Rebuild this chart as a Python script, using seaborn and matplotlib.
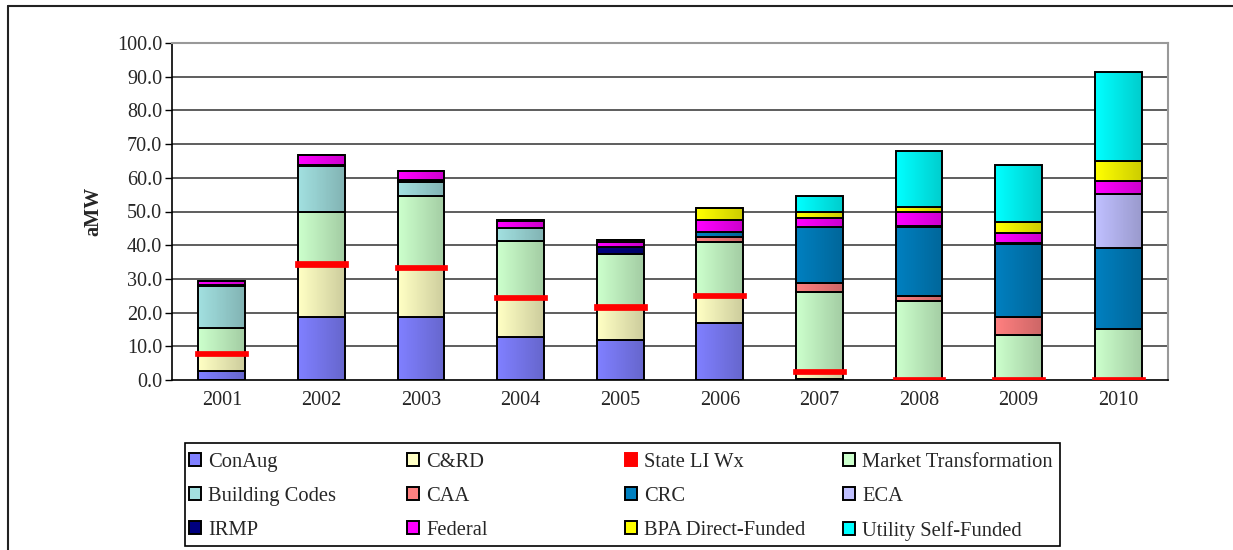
import numpy as np
import pandas as pd
import matplotlib
matplotlib.use("Agg")
import matplotlib.pyplot as plt
from matplotlib.patches import Patch, Rectangle
from matplotlib.lines import Line2D
import seaborn as sns

# values (aMW)
years = ['2001', '2002', '2003', '2004', '2005', '2006', '2007', '2008', '2009', '2010']
conaug = [2.7, 18.8, 18.6, 12.7, 11.9, 17.0, 0.3, 0.0, 0.0, 0.0]
crd = [5.0, 15.4, 14.6, 11.6, 9.6, 7.8, 2.0, 0.0, 0.0, 0.0]
state_li = [0.4, 0.4, 0.4, 0.4, 0.4, 0.4, 0.5, 0.2, 0.2, 0.2]
market_tr = [7.2, 15.2, 21.0, 16.5, 15.6, 15.8, 23.2, 23.1, 13.2, 14.9]
bldg_codes = [12.7, 13.7, 4.2, 3.8, 0.0, 0.0, 0.0, 0.0, 0.0, 0.0]
caa = [0.0, 0.0, 0.0, 0.0, 0.0, 1.3, 2.8, 1.5, 5.4, 0.0]
crc = [0.0, 0.0, 0.0, 0.0, 0.0, 1.5, 16.5, 20.7, 21.5, 24.0]
eca = [0.0, 0.0, 0.0, 0.0, 0.0, 0.0, 0.0, 0.0, 0.0, 16.0]
irmp = [0.3, 0.3, 0.4, 0.0, 2.0, 0.0, 0.0, 0.3, 0.3, 0.0]
federal = [1.2, 3.1, 2.7, 2.1, 1.5, 3.8, 2.8, 4.2, 3.0, 4.0]
bpa_direct = [0.0, 0.0, 0.0, 0.5, 0.5, 3.3, 1.7, 1.3, 3.2, 5.8]
utility_self = [0.0, 0.0, 0.0, 0.0, 0.0, 0.0, 4.8, 16.8, 17.1, 26.5]

series = [
    ('ConAug', conaug, '#8080FF'),
    ('C&RD', crd, '#FFFFC4'),
    ('State LI Wx', state_li, '#FF0000'),
    ('Market Transformation', market_tr, '#CCFFCC'),
    ('Building Codes', bldg_codes, '#A2E0E0'),
    ('CAA', caa, '#FF8080'),
    ('CRC', crc, '#0080C0'),
    ('ECA', eca, '#C0C0FF'),
    ('IRMP', irmp, '#000080'),
    ('Federal', federal, '#FF00FF'),
    ('BPA Direct-Funded', bpa_direct, '#FFFF00'),
    ('Utility Self-Funded', utility_self, '#00FFFF'),
]

sns.set_style("white")
plt.rcParams['font.family'] = ['Liberation Serif', 'DejaVu Serif']

fig = plt.figure(figsize=(12.33, 5.5), dpi=100)
ax = fig.add_axes([172/1233, 1-380/550, (1168-172)/1233, (380-43)/550])

for v in np.arange(10, 101, 10):
    ax.axhline(v, color='#505050' if v < 100 else '#999999', lw=1.3, zorder=0)

bottom = np.zeros(len(years))
for name, vals, col in series:
    vals = np.array(vals)
    df = pd.DataFrame({'year': years, 'val': vals})
    n_before = len(ax.patches)
    if name == 'State LI Wx':
        sns.barplot(data=df, x='year', y='val', color=col, bottom=bottom, width=0.49,
                    edgecolor='#FF0000', linewidth=3.4, errorbar=None, ax=ax,
                    saturation=1, zorder=3)
    else:
        sns.barplot(data=df, x='year', y='val', color=col, bottom=bottom, width=0.47,
                    edgecolor='black', linewidth=1.4, errorbar=None, ax=ax,
                    saturation=1, zorder=2)
        # cylinder-like shading: darken towards the right side of each bar
        shade = np.zeros((1, 64, 4))
        shade[0, :, 3] = np.linspace(0.0, 0.2, 64)
        for p in ax.patches[n_before:]:
            if p.get_height() <= 0:
                continue
            x0, y0 = p.get_x(), p.get_y()
            im = ax.imshow(shade, extent=(x0, x0 + p.get_width(), y0, y0 + p.get_height()),
                           aspect='auto', zorder=2.1, interpolation='bilinear')
            im.set_clip_path(p)
    bottom = bottom + vals

ax.set_xlim(-0.5, 9.5)
ax.set_ylim(0, 100)
ax.set_yticks(np.arange(0, 101, 10))
ax.set_yticklabels([f'{v:.1f}' for v in np.arange(0, 101, 10)])
ax.set_xlabel('')
ax.set_ylabel('aMW', fontsize=14.5, fontweight='bold', labelpad=10)

ax.set_xticks(np.arange(-0.5, 10, 1), minor=True)
ax.tick_params(axis='x', which='major', length=0, pad=8, labelsize=14.5)
ax.tick_params(axis='x', which='minor', length=5, width=1, color='black', direction='out')
ax.tick_params(axis='y', which='major', length=5, width=1, color='black', direction='out',
               pad=2, labelsize=14.5, left=True)

for s in ['left', 'bottom']:
    ax.spines[s].set_color('black')
    ax.spines[s].set_linewidth(1.2)
for s in ['top', 'right']:
    ax.spines[s].set_color('#999999')
    ax.spines[s].set_linewidth(1.5)

# legend: 4 columns of 3 rows, inside a box
cols = [[0, 4, 8], [1, 5, 9], [2, 6, 10], [3, 7, 11]]
col_x = [189, 407, 625, 843]
for cx, idxs in zip(col_x, cols):
    handles = []
    for i in idxs:
        name, _, col = series[i]
        ec = '#FF0000' if name == 'State LI Wx' else 'black'
        handles.append(Patch(facecolor=col, edgecolor=ec, linewidth=1.4, label=name))
    fig.legend(handles=handles, loc='upper left', bbox_to_anchor=(cx/1233, 1-453/550),
               frameon=False, fontsize=14.8, handlelength=0.58, handleheight=0.58,
               handletextpad=0.36, labelspacing=0.72, borderpad=0, borderaxespad=0)

fig.add_artist(Rectangle((185/1233, 1-546/550), (1060-185)/1233, (546-443)/550,
                         transform=fig.transFigure, fill=False, edgecolor='black', lw=1.2))

# outer chart border
fig.add_artist(Line2D([8/1233, 8/1233], [0, 1-6/550], transform=fig.transFigure,
                      color='#222222', lw=1.5))
fig.add_artist(Line2D([8/1233, 1], [1-6/550, 1-6/550], transform=fig.transFigure,
                      color='#222222', lw=1.5))

plt.savefig('out.png', dpi=100)
